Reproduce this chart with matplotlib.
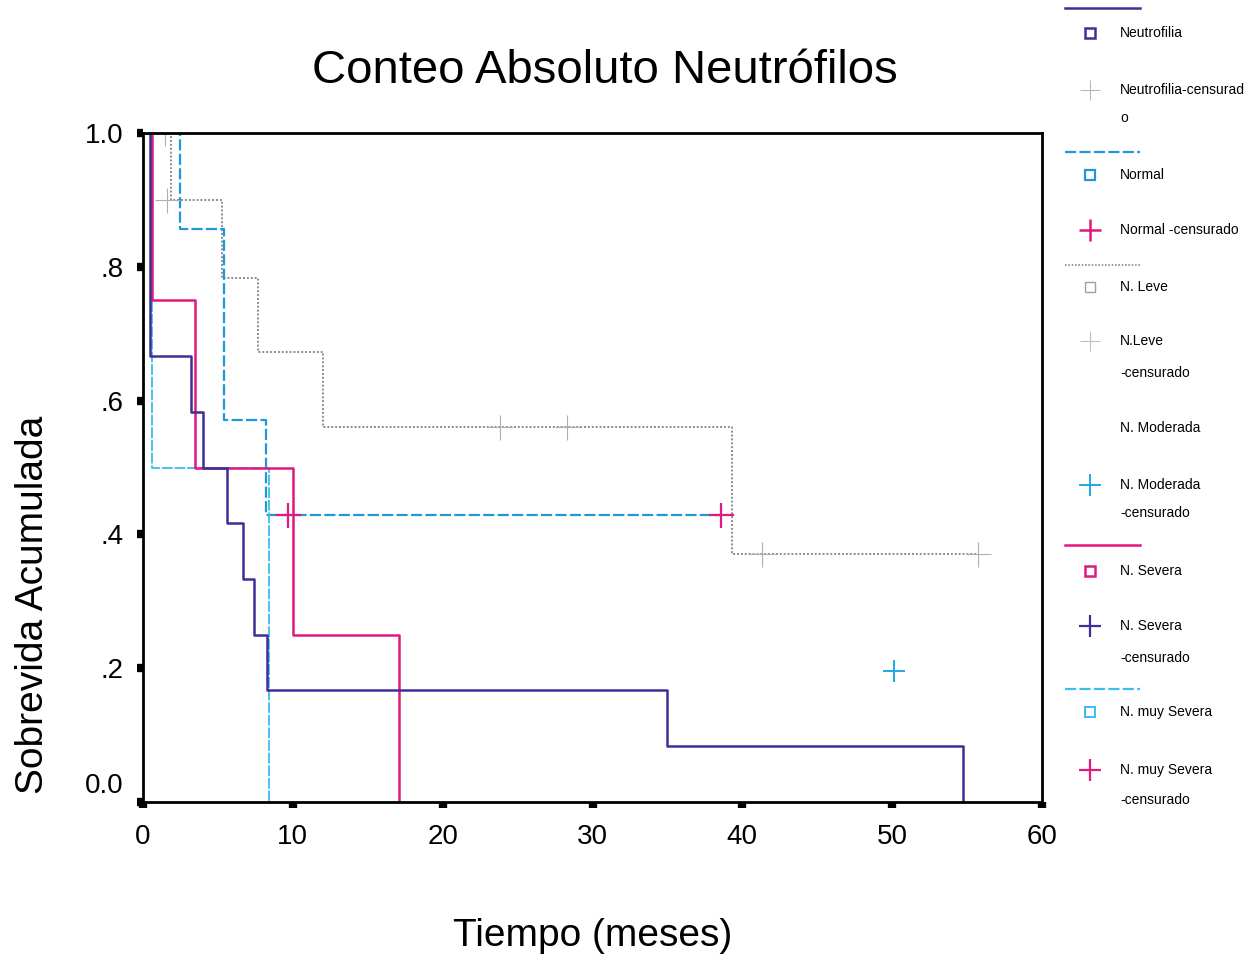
import numpy as np
import matplotlib.pyplot as plt
import matplotlib.transforms as mtransforms

plt.rcParams['font.family'] = ['Liberation Sans', 'DejaVu Sans']

# Kaplan-Meier curves (time in months, cumulative survival)
neu_t = [0, 0.5, 3.2, 4.0, 5.6, 6.7, 7.4, 8.3, 35.0, 54.7]
neu_s = [1.0, 0.667, 0.583, 0.5, 0.417, 0.333, 0.25, 0.167, 0.083, 0.0]

normal_t = [0, 2.5, 5.4, 8.2, 38.6]
normal_s = [1.0, 0.857, 0.571, 0.429, 0.429]
normal_cens_t = [9.7, 38.6]
normal_cens_s = [0.429, 0.429]

leve_t = [0, 1.9, 5.3, 7.7, 12.0, 39.3, 55.7]
leve_s = [1.0, 0.9, 0.784, 0.673, 0.56, 0.37, 0.37]
leve_cens_t = [1.5, 1.6, 23.8, 28.3, 41.3, 55.7]
leve_cens_s = [1.0, 0.9, 0.56, 0.56, 0.37, 0.37]

mod_cens_t = [50.1]
mod_cens_s = [0.196]

sev_t = [0, 0.6, 3.5, 10.0, 17.1]
sev_s = [1.0, 0.75, 0.5, 0.25, 0.0]

muy_t = [0, 0.6, 8.4]
muy_s = [1.0, 0.5, 0.0]

xticks = [0, 10, 20, 30, 40, 50, 60]
yticks = [0.0, 0.2, 0.4, 0.6, 0.8, 1.0]
ytick_labels = ['0.0', '.2', '.4', '.6', '.8', '1.0']

c_neu = '#3f2e98'
c_normal = '#1e98d6'
c_leve = '#8c8c8c'
c_mod = '#22a8e8'
c_sev = '#e0187f'
c_muy = '#3cbcf0'

fig = plt.figure(figsize=(12.47, 9.58), dpi=100)
W, H = 1247, 958
ax = fig.add_axes([143 / W, 1 - 802 / H, (1042 - 143) / W, (802 - 133) / H])

ax.step(leve_t, leve_s, where='post', color=c_leve, lw=1.4, ls=(0, (1, 1)))
ax.step(normal_t, normal_s, where='post', color=c_normal, lw=1.6, ls=(0, (5, 1.5)))
ax.step(muy_t, muy_s, where='post', color=c_muy, lw=1.3, ls=(0, (6, 1)))
ax.step(sev_t, sev_s, where='post', color=c_sev, lw=1.8)
ax.step(neu_t, neu_s, where='post', color=c_neu, lw=1.8)

ax.plot(leve_cens_t, leve_cens_s, ls='none', marker='+', ms=18, mew=0.8, color='#b0b0b0')
ax.plot(normal_cens_t, normal_cens_s, ls='none', marker='+', ms=18, mew=1.6, color=c_sev)
ax.plot(mod_cens_t, mod_cens_s, ls='none', marker='+', ms=16, mew=1.4, color=c_mod)

ax.set_xlim(0, 60)
ax.set_ylim(0, 1.0)
ax.set_xticks(xticks)
ax.set_xticklabels([str(v) for v in xticks])
ax.set_yticks(yticks)
ax.set_yticklabels(ytick_labels)
ax.tick_params(axis='x', direction='out', length=4, width=6, labelsize=20, pad=12, color='black')
ax.tick_params(axis='y', direction='out', length=4, width=6, labelsize=20, pad=10, color='black')
for s in ax.spines.values():
    s.set_linewidth(2.0)
    s.set_color('black')

# the 0.0 label sits a bit above its tick in the original
off = mtransforms.ScaledTranslation(0, 0.19, fig.dpi_scale_trans)
lbl0 = ax.get_yticklabels()[0]
lbl0.set_transform(lbl0.get_transform() + off)

ax.set_title('Conteo Absoluto Neutrófilos', fontsize=34, x=0.514, pad=36)
ax.set_xlabel('Tiempo (meses)', fontsize=28)
ax.xaxis.set_label_coords(0.5, -0.173)
ax.set_ylabel('Sobrevida Acumulada', fontsize=28)
ax.yaxis.set_label_coords(-0.102, 0.294)

# legend drawn on the right, SPSS style
def fy(py):
    return 1 - py / H

def fx(px):
    return px / W

def leg_line(py, color, ls, lw=1.6):
    fig.add_artist(plt.Line2D([fx(1065), fx(1140)], [fy(py), fy(py)], color=color, ls=ls, lw=lw,
                              transform=fig.transFigure))

def leg_mark(py, marker, color, ms, mew):
    fig.add_artist(plt.Line2D([fx(1090)], [fy(py)], marker=marker, ms=ms, mew=mew, color=color,
                              mfc='none', ls='none', transform=fig.transFigure))

def leg_text(py, txt):
    fig.text(fx(1120), fy(py), txt, fontsize=10, va='center', ha='left')

leg_line(8, c_neu, '-', 1.8)
leg_mark(33, 's', c_neu, 7, 1.8)
leg_text(33, 'Neutrofilia')
leg_mark(90, '+', '#b8b8b8', 14, 0.8)
leg_text(90, 'Neutrofilia-censurad')
leg_text(118, 'o')

leg_line(152, c_normal, (0, (5, 1.5)))
leg_mark(175, 's', c_normal, 7, 1.6)
leg_text(175, 'Normal')
leg_mark(230, '+', c_sev, 16, 1.8)
leg_text(230, 'Normal -censurado')

leg_line(265, c_leve, (0, (1, 1)), 1.2)
leg_mark(287, 's', '#a0a0a0', 7, 1.0)
leg_text(287, 'N. Leve')
leg_mark(341, '+', '#c0c0c0', 14, 0.8)
leg_text(341, 'N.Leve')
leg_text(373, '-censurado')

leg_text(428, 'N. Moderada')
leg_mark(485, '+', c_mod, 16, 1.4)
leg_text(485, 'N. Moderada')
leg_text(513, '-censurado')

leg_line(545, c_sev, '-', 1.8)
leg_mark(571, 's', c_sev, 7, 1.8)
leg_text(571, 'N. Severa')
leg_mark(626, '+', c_neu, 16, 1.6)
leg_text(626, 'N. Severa')
leg_text(658, '-censurado')

leg_line(689, c_muy, (0, (5, 1.5)))
leg_mark(712, 's', c_muy, 7, 1.4)
leg_text(712, 'N. muy Severa')
leg_mark(770, '+', c_sev, 16, 1.6)
leg_text(770, 'N. muy Severa')
leg_text(800, '-censurado')

fig.savefig('out.png', dpi=100)
